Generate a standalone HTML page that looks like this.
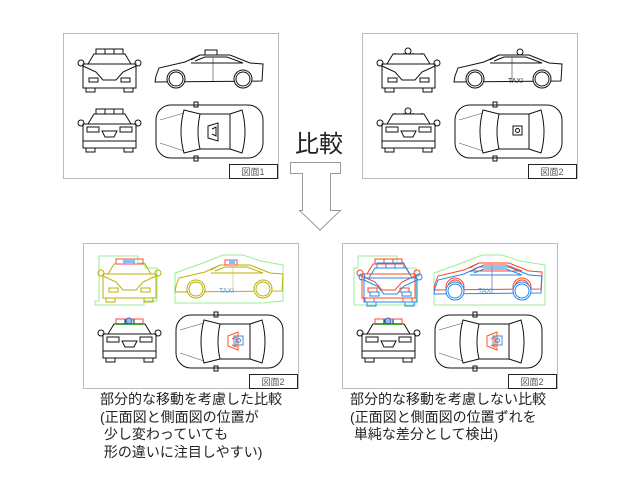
<!DOCTYPE html>
<html><head><meta charset="utf-8"><style>
html,body{margin:0;padding:0;background:#fff;}
body{width:640px;height:480px;overflow:hidden;position:relative;font-family:"Liberation Sans","Noto Sans CJK JP",sans-serif;}
.t{position:absolute;font-size:14px;line-height:17.5px;color:#222;white-space:pre;}
</style></head><body>
<svg width="640" height="480" viewBox="0 0 640 480" style="position:absolute;left:0;top:0">
<defs>
<g id="front" fill="none" stroke="currentColor" stroke-width="1">
 <rect x="13" y="0" width="27" height="5"/><line x1="22" y1="0" x2="22" y2="5"/><line x1="31" y1="0" x2="31" y2="5"/>
 <path d="M5,15 L11,5 L42,5 L48,15"/>
 <rect x="0" y="15" width="53" height="24"/>
 <path d="M0,17 L13,23 L20,31 L33,31 L40,23 L53,17"/>
 <rect x="6" y="29" width="9" height="4"/><rect x="38" y="29" width="9" height="4"/>
 <rect x="3" y="39" width="9" height="4"/><rect x="41" y="39" width="9" height="4"/>
 <circle cx="-2" cy="14" r="3"/><circle cx="55" cy="14" r="3"/>
</g>
<g id="rear" fill="none" stroke="currentColor" stroke-width="1">
 <rect x="13" y="0" width="27" height="5"/><line x1="22" y1="0" x2="22" y2="5"/><line x1="31" y1="0" x2="31" y2="5"/>
 <path d="M5,15 L11,5 L42,5 L48,15"/>
 <rect x="0" y="15" width="53" height="24"/>
 <rect x="4" y="18" width="12" height="5"/><rect x="37" y="18" width="12" height="5"/>
 <path d="M19,22 L34,22 L31,28 L22,28 Z"/>
 <path d="M0,32 L53,32"/>
 <rect x="3" y="39" width="9" height="4"/><rect x="41" y="39" width="9" height="4"/>
 <circle cx="-2" cy="14" r="3"/><circle cx="55" cy="14" r="3"/>
</g>
<g id="side" fill="none" stroke="currentColor" stroke-width="1">
 <path d="M1,26 L4,18 L30,12 L45,5 L75,5 L95,13 L108,14 L107,31 L0,32 Z"/>
 <path d="M36,10 L45,5 M40,11 L50,7 L72,7 L88,13 L36,13"/>
 <line x1="58" y1="7" x2="58" y2="32" stroke-width="0.5"/>
 <circle cx="21" cy="29" r="9" fill="#fff"/><circle cx="21" cy="29" r="7"/>
 <circle cx="88" cy="29" r="9" fill="#fff"/><circle cx="88" cy="29" r="7"/>
</g>
<g id="top" fill="none" stroke="currentColor" stroke-width="1">
 <rect x="0" y="0" width="107" height="53" rx="15"/>
 <path d="M28,5 Q22,27 28,48 L44,44 Q40,27 44,9 Z"/>
 <path d="M44,9 L74,9 L74,44 L44,44"/>
 <path d="M74,9 L86,5 Q92,27 86,48 L74,44"/>
 <rect x="38" y="-3" width="4" height="5"/><rect x="38" y="51" width="4" height="5"/>
 <path d="M4,15 L28,8 M4,38 L28,46" stroke-width="0.4"/>
</g>
<g id="police1"><path d="M52,21 L62,18 L62,36 L52,33 Z M56,24 L60,22 L60,31 L56,29" fill="none" stroke="currentColor"/></g>
</defs>

<!-- frame 1 -->
<g transform="translate(63,33)">
 <rect x="0.5" y="0.5" width="215" height="145" fill="#fff" stroke="#bbb"/>
 <use href="#front" x="20" y="16" color="#111"/>
 <use href="#rear" x="20" y="76" color="#111"/>
 <use href="#side" x="92" y="17" color="#111"/>
 <rect x="142" y="17" width="12" height="5" fill="none" stroke="#111"/>
 <use href="#top" x="93" y="72" color="#111"/>
 <use href="#police1" x="93" y="72" color="#111"/>
 <rect x="166.5" y="131.5" width="48" height="14" fill="#fff" stroke="#222"/>
 <text x="190" y="142" font-size="9" text-anchor="middle" fill="#555">図面1</text>
</g>

<!-- frame 2 -->
<g transform="translate(362,33)">
 <rect x="0.5" y="0.5" width="215" height="145" fill="#fff" stroke="#bbb"/>
 <use href="#front" x="20" y="16" color="#111"/>
 <use href="#rear" x="20" y="76" color="#111"/>
 <rect x="18" y="14" width="56" height="6" fill="#fff"/><rect x="18" y="74" width="56" height="6" fill="#fff"/>
 <circle cx="46" cy="18" r="3" fill="none" stroke="#111"/><circle cx="46" cy="78" r="3" fill="none" stroke="#111"/>
 <use href="#side" x="92" y="17" color="#111"/>
 <circle cx="158" cy="19" r="3" fill="none" stroke="#111"/>
 <text x="146" y="50" font-size="7" fill="#333">TAXI</text>
 <use href="#top" x="93" y="72" color="#111"/>
 <rect x="151" y="93" width="9" height="9" fill="none" stroke="#111"/><circle cx="155.5" cy="97.5" r="2" fill="none" stroke="#111"/>
 <rect x="166.5" y="131.5" width="48" height="14" fill="#fff" stroke="#222"/>
 <text x="190" y="142" font-size="9" text-anchor="middle" fill="#555">図面2</text>
</g>

<!-- big text and arrow -->
<text x="295" y="152" font-size="24" fill="#222" style="font-family:'Liberation Sans','Noto Sans CJK JP',sans-serif">比較</text>
<path d="M290.5,162.5 L340.5,162.5 L340.5,173.5 L330.5,173.5 L330.5,210.5 L340.5,210.5 L320,230 L299.5,210.5 L302.5,210.5 L302.5,173.5 L290.5,173.5 Z" fill="#fff" stroke="#999"/>

<!-- frame 3 (bottom-left) -->
<g transform="translate(83,243)">
 <rect x="0.5" y="0.5" width="215" height="145" fill="#fff" stroke="#bbb"/>
 <path d="M16,13 L55,13 L55,20 L62,20 L62,25 L74,25 L74,58 L61,58 L61,62 L12,62 L12,58 L16,58 Z" fill="none" stroke="#9e9" stroke-width="1"/>
 <path d="M92,30 L120,20 L140,12 L160,12 L178,18 L200,22 L200,58 L180,60 L120,60 L92,60 Z" fill="none" stroke="#9e9"/>
 <use href="#front" x="20" y="16" color="#bbb000"/>
 <rect x="33" y="16" width="27" height="5" fill="none" stroke="#f44"/>
 <rect x="40" y="16" width="12" height="4" fill="#8bf"/>
 <use href="#side" x="92" y="17" color="#bbb000"/>
 <rect x="142" y="17" width="12" height="5" fill="none" stroke="#f44"/><rect x="146" y="17" width="6" height="4" fill="#8bf"/>
 <text x="136" y="50" font-size="7" fill="#69c">TAXI</text>
 <use href="#rear" x="20" y="76" color="#111"/>
 <rect x="33" y="76" width="27" height="5" fill="none" stroke="#f44"/><circle cx="46" cy="78" r="3" fill="#8bf" stroke="#36c"/>
 <line x1="33" y1="81" x2="60" y2="81" stroke="#080" stroke-width="1.5"/>
 <use href="#top" x="93" y="72" color="#111"/>
 <path d="M145,93 L155,89 L155,107 L145,103 Z M149,96 L153,94 L153,104 L149,102" fill="none" stroke="#f52"/>
 <rect x="151" y="93" width="9" height="9" fill="none" stroke="#58c"/><circle cx="155.5" cy="97.5" r="2" fill="none" stroke="#58c"/>
 <rect x="166.5" y="131.5" width="48" height="14" fill="#fff" stroke="#222"/>
 <text x="190" y="142" font-size="9" text-anchor="middle" fill="#555">図面2</text>
</g>

<!-- frame 4 (bottom-right) -->
<g transform="translate(342,243)">
 <rect x="0.5" y="0.5" width="215" height="145" fill="#fff" stroke="#bbb"/>
 <path d="M16,13 L55,13 L55,20 L62,20 L62,25 L74,25 L74,62 L12,62 L12,25 L16,25 Z" fill="none" stroke="#9e9"/>
 <path d="M92,30 L120,20 L140,12 L160,12 L178,18 L203,22 L203,62 L92,62 Z" fill="none" stroke="#9e9"/>
 <use href="#front" x="20" y="16" color="#f42"/>
 <use href="#front" x="22" y="20" color="#28e"/>
 <use href="#side" x="92" y="15" color="#f42"/>
 <use href="#side" x="92" y="19" color="#28e"/>
 <text x="136" y="50" font-size="7" fill="#69c">TAXI</text>
 <use href="#rear" x="20" y="76" color="#111"/>
 <rect x="33" y="76" width="27" height="5" fill="none" stroke="#f44"/><circle cx="46" cy="78" r="3" fill="#8bf" stroke="#36c"/>
 <line x1="33" y1="81" x2="60" y2="81" stroke="#080" stroke-width="1.5"/>
 <use href="#top" x="93" y="72" color="#111"/>
 <path d="M145,93 L155,89 L155,107 L145,103 Z M149,96 L153,94 L153,104 L149,102" fill="none" stroke="#f52"/>
 <rect x="151" y="93" width="9" height="9" fill="none" stroke="#58c"/><circle cx="155.5" cy="97.5" r="2" fill="none" stroke="#58c"/>
 <rect x="166.5" y="131.5" width="48" height="14" fill="#fff" stroke="#222"/>
 <text x="190" y="142" font-size="9" text-anchor="middle" fill="#555">図面2</text>
</g>
</svg>
<div class="t" style="left:100px;top:391px;">部分的な移動を考慮した比較
(正面図と側面図の位置が
 少し変わっていても
 形の違いに注目しやすい)</div>
<div class="t" style="left:350px;top:391px;">部分的な移動を考慮しない比較
(正面図と側面図の位置ずれを
 単純な差分として検出)</div>
</body></html>
